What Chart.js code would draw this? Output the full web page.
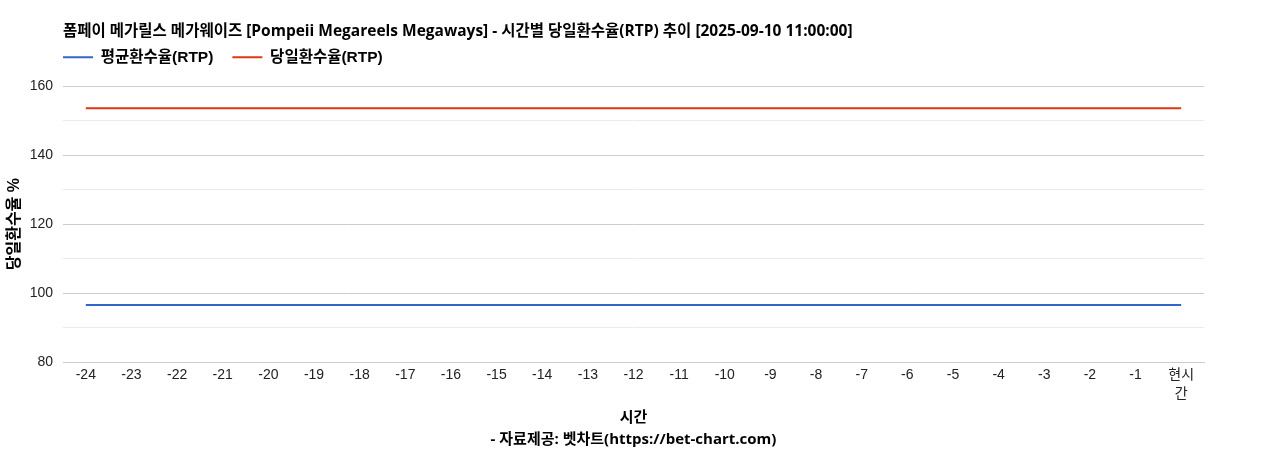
<!DOCTYPE html>
<html>
<head>
<meta charset="utf-8">
<script src="https://cdn.jsdelivr.net/npm/chart.js@4/dist/chart.umd.min.js"></script>
<style>
html,body{margin:0;padding:0;background:#fff;}
#wrap{width:1268px;height:450px;position:relative;}
</style>
</head>
<body>
<div id="wrap"><canvas id="c" width="1268" height="450"></canvas></div>
<script>
const titleText = '폼페이 메가릴스 메가웨이즈 [Pompeii Megareels Megaways] - 시간별 당일환수율(RTP) 추이 [2025-09-10 11:00:00]';
const categories = ['-24','-23','-22','-21','-20','-19','-18','-17','-16','-15','-14','-13','-12','-11','-10','-9','-8','-7','-6','-5','-4','-3','-2','-1',['현시','간']];
const avgRtp = [96.5,96.5,96.5,96.5,96.5,96.5,96.5,96.5,96.5,96.5,96.5,96.5,96.5,96.5,96.5,96.5,96.5,96.5,96.5,96.5,96.5,96.5,96.5,96.5,96.5];
const dayRtp = [153.6,153.6,153.6,153.6,153.6,153.6,153.6,153.6,153.6,153.6,153.6,153.6,153.6,153.6,153.6,153.6,153.6,153.6,153.6,153.6,153.6,153.6,153.6,153.6,153.6];
const seriesNames = ['평균환수율(RTP)','당일환수율(RTP)'];
const yTitle = '당일환수율 %';
const xTitle = ['시간','- 자료제공: 벳차트(https://bet-chart.com)'];

const FONT = "Arial, 'Liberation Sans', 'Noto Sans CJK KR', sans-serif";
const BOLDFONT = "'Open Sans', 'Noto Sans CJK KR', sans-serif";
const LEGEND_PAD = 19;

const layoutTweaks = {
  id: 'layoutTweaks',
  beforeInit(chart) {
    const lg = chart.legend;
    if (lg) {
      const origFit = lg.fit.bind(lg);
      lg.fit = function () { origFit(); this.height += 11; };
    }
  },
  afterLayout(chart) {
    const l = chart.chartArea.left;
    if (chart.titleBlock) chart.titleBlock.left = l;
    if (chart.legend) chart.legend.left = l - LEGEND_PAD;
  }
};

new Chart(document.getElementById('c'), {
  type: 'line',
  data: {
    labels: categories,
    datasets: [
      { label: seriesNames[0], data: avgRtp, borderColor: '#3366cc', backgroundColor: '#3366cc', borderWidth: 2, pointRadius: 0, tension: 0 },
      { label: seriesNames[1], data: dayRtp, borderColor: '#dc3912', backgroundColor: '#dc3912', borderWidth: 2, pointRadius: 0, tension: 0 }
    ]
  },
  options: {
    responsive: false,
    animation: false,
    layout: { padding: { left: 5, right: 64, top: 22, bottom: 0 } },
    plugins: {
      title: {
        display: true, text: titleText, align: 'start', color: '#000',
        font: { family: BOLDFONT, size: 15.5, weight: 'bold', lineHeight: 1.2 },
        padding: { top: 0, bottom: -10 }
      },
      legend: {
        display: true, align: 'start',
        labels: {
          usePointStyle: true, pointStyle: 'line', pointStyleWidth: 30,
          color: '#000', font: { family: FONT, size: 15.5, weight: 'bold' }, padding: LEGEND_PAD
        }
      },
      tooltip: { enabled: false }
    },
    scales: {
      x: {
        offset: true,
        grid: { display: false, drawTicks: false },
        border: { display: true, color: '#ccc' },
        ticks: { color: '#222', font: { family: FONT, size: 14, lineHeight: 1.36 }, maxRotation: 0, autoSkip: false, padding: 4 },
        title: { display: true, text: xTitle, color: '#000', font: { family: BOLDFONT, size: 15, weight: 'bold', lineHeight: 1.43 }, padding: { top: -1, bottom: 0 } }
      },
      y: {
        min: 80, max: 160,
        afterFit: (scale) => { scale.width = 58; },
        grid: {
          drawTicks: false,
          color: (ctx) => (ctx.tick && ctx.tick.value % 20 === 0) ? '#cccccc' : '#ebebeb'
        },
        border: { display: false },
        ticks: {
          stepSize: 10, color: '#222', font: { family: FONT, size: 14 }, padding: 10,
          callback: (v) => (v % 20 === 0 ? String(v) : '')
        },
        title: { display: true, text: yTitle, color: '#000', font: { family: FONT, size: 16, weight: 'bold', lineHeight: 1.2 }, padding: { top: 0, bottom: 6 } }
      }
    }
  },
  plugins: [layoutTweaks]
});
</script>
</body>
</html>
